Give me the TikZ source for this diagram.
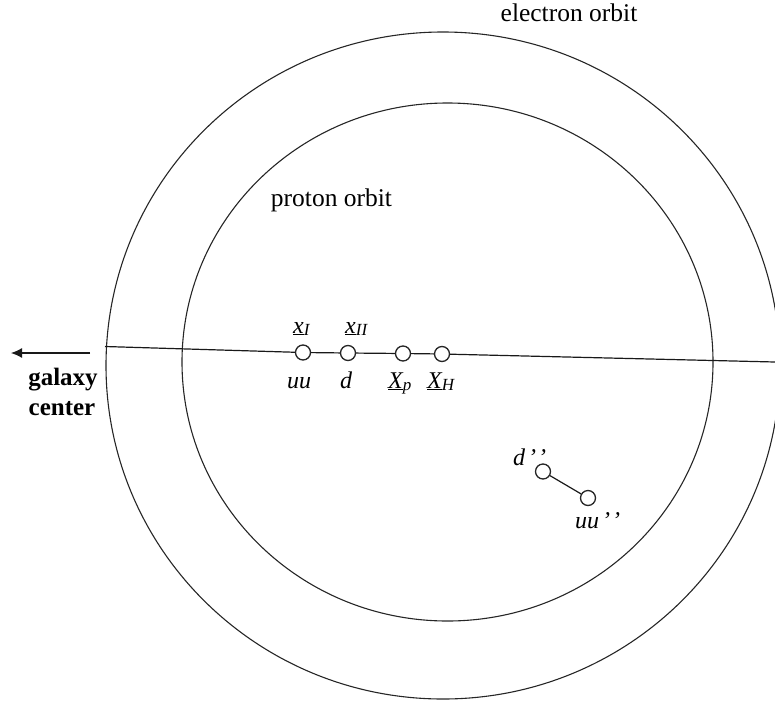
\documentclass[tikz,border=0pt]{standalone}
\usepackage{fontspec}
\setmainfont{Liberation Serif}
\usetikzlibrary{arrows.meta}
\newcommand{\sbs}[1]{\raisebox{-0.1em}{\fontsize{17}{17}\selectfont #1}}
\tikzset{
  orbit/.style={draw=black!85, line width=1.1pt},
  axisline/.style={draw=black!90, line width=1.2pt},
  dot/.style={circle, draw=black!85, fill=white, line width=1.3pt, minimum size=15pt, inner sep=0pt},
  lbl/.style={font=\fontsize{24}{28}\selectfont\itshape, inner sep=0pt, anchor=base west},
  ttl/.style={font=\fontsize{25.5}{30}\selectfont, inner sep=0pt, anchor=base},
  gc/.style={font=\fontsize{25}{30}\selectfont\bfseries, inner sep=0pt, anchor=base}
}
\begin{document}
\begin{tikzpicture}[x=1pt,y=-1pt]
\useasboundingbox (0,0) rectangle (775,704);
% orbits
\draw[orbit] (443,365.5) ellipse [x radius=337pt, y radius=333.5pt];
\draw[orbit] (447.5,362) ellipse [x radius=265.5pt, y radius=259pt];
\node[ttl] (eo) at (569,21) {electron orbit};
\node[ttl] (po) at (331.5,206) {proton orbit};
% axis with quarks
\coordinate (L) at (105,346.5);
\coordinate (R) at (775,362);
\node[dot] (c1) at (303,352.5) {};
\node[dot] (c2) at (348,353) {};
\node[dot] (c3) at (403,353.5) {};
\node[dot] (c4) at (442,354) {};
\draw[axisline] (L) -- (c1) -- (c2) -- (c3) -- (c4) -- (R);
\node[lbl] (x1) at (293,333) {\underline{x}\sbs{I}};
\node[lbl] (x2) at (345,333) {\underline{x}\sbs{II}};
\node[lbl] (uu) at (287,388) {uu};
\node[lbl] (dd) at (340,388) {d};
\node[lbl] (xp) at (388,388) {\underline{X}\sbs{p}};
\node[lbl] (xh) at (427,388) {\underline{X}\sbs{H}};
% second pair
\node[dot] (d2) at (543,471.5) {};
\node[dot] (u2) at (588,498) {};
\draw[axisline] (d2) -- (u2);
\node[lbl] (d2l) at (513,465) {d\kern3pt’\kern2pt’};
\node[lbl] (u2l) at (575,528) {uu\kern3pt’\kern2pt’};
% galaxy center
\coordinate (aS) at (90,353);
\coordinate (aE) at (11,353);
\draw[axisline, -{Latex[length=11pt,width=10pt]}] (aS) -- (aE);
\node[gc] (gal) at (63,385) {galaxy};
\node[gc] (cen) at (62,415) {center};
\end{tikzpicture}
\end{document}
